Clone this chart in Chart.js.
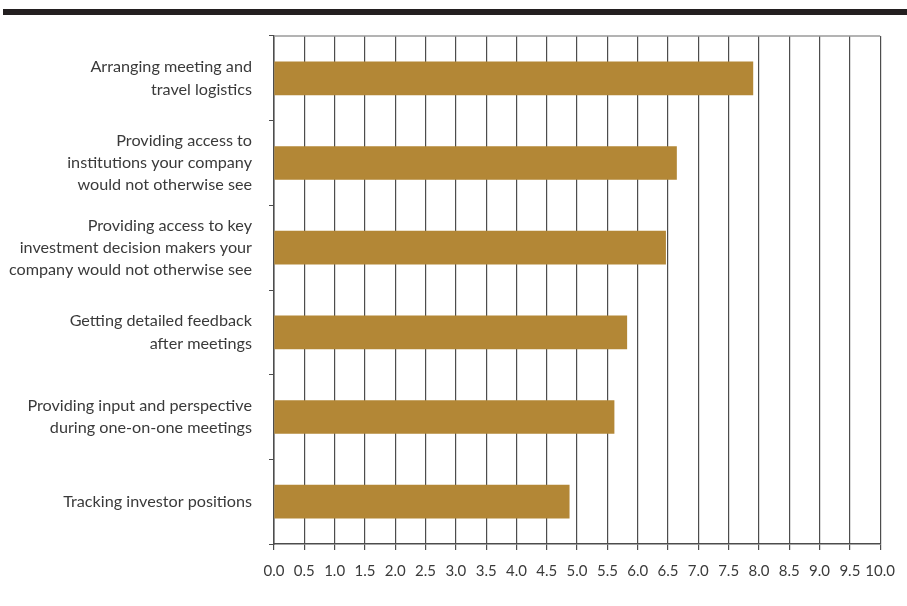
<!DOCTYPE html>
<html>
<head>
<meta charset="utf-8">
<script src="https://cdn.jsdelivr.net/npm/chart.js@4.4.1/dist/chart.umd.min.js"></script>
<style>
  body { margin: 0; background: #fff; }
  #topbar { position: absolute; left: 3px; top: 9px; width: 904px; height: 6px; background: #231f20; }
  #wrap { position: absolute; left: 0; top: 0; width: 907px; height: 606px; }
</style>
</head>
<body>
<div id="topbar"></div>
<div id="wrap"><canvas id="chart"></canvas></div>
<script>
// ---------------- DATA ----------------
const categories = [
    ["Arranging meeting and", "travel logistics"],
    ["Providing access to", "institutions your company", "would not otherwise see"],
    ["Providing access to key", "investment decision makers your", "company would not otherwise see"],
    ["Getting detailed feedback", "after meetings"],
    ["Providing input and perspective", "during one-on-one meetings"],
    ["Tracking investor positions"]
];
const scores = [7.9, 6.64, 6.46, 5.82, 5.61, 4.87];
const axisMin = 0;
const axisMax = 10;
const axisStep = 0.5;

const barColor = "#B38736";
const gridColor = "#4d4d4d";
const textColor = "#3a3a3a";

// top border of the plot
const topLine = {
    id: "topLine",
    afterDraw(chart){
        const a = chart.chartArea, ctx = chart.ctx;
        ctx.save();
        ctx.strokeStyle = "#9a9a9a";
        ctx.lineWidth = 1.5;
        ctx.beginPath();
        ctx.moveTo(a.left, a.top);
        ctx.lineTo(a.right, a.top);
        ctx.stroke();
        ctx.restore();
    }
};

new Chart(document.getElementById("chart"), {
    type: "bar",
    data: {
        labels: categories,
        datasets: [{
            data: scores,
            backgroundColor: barColor,
            borderWidth: 0,
            barThickness: 33
        }]
    },
    options: {
        indexAxis: "y",
        responsive: true,
        maintainAspectRatio: false,
        animation: false,
        layout: { padding: { top: 36, right: 25, left: 0, bottom: 0 } },
        plugins: {
            legend: { display: false },
            tooltip: { enabled: false }
        },
        scales: {
            x: {
                min: axisMin,
                max: axisMax,
                afterFit(scale){ scale.height = 62; },
                ticks: {
                    stepSize: axisStep,
                    autoSkip: false,
                    maxRotation: 0,
                    padding: 12,
                    color: textColor,
                    font: { family: "Lato", size: 15 },
                    callback: v => Number(v).toFixed(1)
                },
                grid: {
                    color: gridColor,
                    lineWidth: 1.2,
                    tickLength: 6,
                    tickColor: gridColor
                },
                border: { color: gridColor, width: 1.5 }
            },
            y: {
                afterFit(scale){ scale.width = 274; },
                ticks: {
                    padding: 17,
                    color: textColor,
                    font: { family: "Lato", size: 16.2, lineHeight: 1.37 }
                },
                grid: {
                    offset: true,
                    drawOnChartArea: false,
                    tickLength: 5,
                    tickColor: gridColor
                },
                border: { color: gridColor, width: 1.5 }
            }
        }
    },
    plugins: [topLine]
});
</script>
</body>
</html>
